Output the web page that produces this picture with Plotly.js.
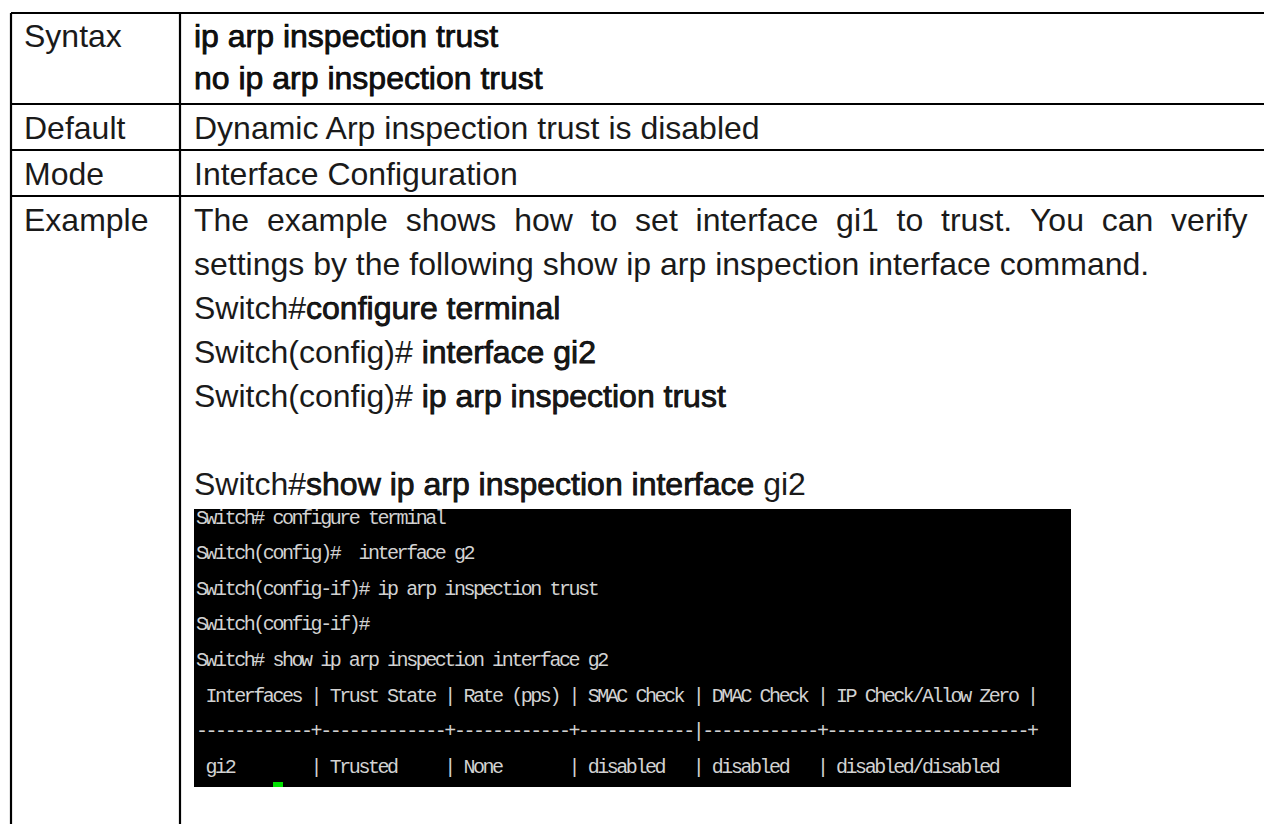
<!DOCTYPE html>
<html>
<head>
<meta charset="utf-8">
<script src="https://cdn.plot.ly/plotly-3.0.1.min.js"></script>
<style>
  html, body { margin: 0; padding: 0; background: #ffffff; }
  #chart { width: 1264px; height: 824px; }
</style>
</head>
<body>
<div id="chart"></div>
<script>
// ---------- content (data) ----------
const rowLabels = ['Syntax', 'Default', 'Mode', 'Example'];
const syntaxLines = [['', 'ip arp inspection trust', ''], ['', 'no ip arp inspection trust', '']];
const defaultLines = ['Dynamic Arp inspection trust is disabled'];
const modeLines = ['Interface Configuration'];
// each example line: [plain prefix, emphasised command, plain suffix]
const exampleLines = [
  ['The\u00a0\u00a0example\u00a0\u00a0shows\u00a0\u00a0how\u00a0\u00a0to\u00a0\u00a0set\u00a0\u00a0interface\u00a0\u00a0gi1\u00a0\u00a0to\u00a0\u00a0trust.\u00a0\u00a0You\u00a0\u00a0can\u00a0\u00a0verify', '', ''],
  ['settings by the following show ip arp inspection interface command.', '', ''],
  ['Switch#', 'configure terminal', ''],
  ['Switch(config)# ', 'interface gi2', ''],
  ['Switch(config)# ', 'ip arp inspection trust', ''],
  ['', '', ''],
  ['Switch#', 'show ip arp inspection interface', ' gi2']
];
const terminalLines = [
  'Switch# configure terminal',
  'Switch(config)#  interface g2',
  'Switch(config-if)# ip arp inspection trust',
  'Switch(config-if)#',
  'Switch# show ip arp inspection interface g2',
  ' Interfaces | Trust State | Rate (pps) | SMAC Check | DMAC Check | IP Check/Allow Zero |',
  '------------+-------------+------------+------------|------------+---------------------+',
  ' gi2        | Trusted     | None       | disabled   | disabled   | disabled/disabled'
];

// ---------- layout geometry (pixels) ----------
const W = 1264, H = 824;
const tableLeft = 11, colDivider = 180, tableTop = 13;
const rowLines = [13, 104, 150, 196];
const labelX = 24, contentX = 194;
const mainFont = 'Liberation Sans, Arial, sans-serif';
const mainSize = 32;
const syntaxBase = [47, 89];
const defaultBase = [139];
const modeBase = [185];
const exampleBase0 = 231, exampleStep = 44;
const term = {x0: 194, x1: 1071, y0: 509, y1: 787, textX: 196, firstLine: 518, step: 35.6};
const termFont = 'Liberation Mono, DejaVu Sans Mono, monospace';
const termSize = 20, termSpacing = -2.45;

const px = v => v / W;
const py = v => 1 - v / H;
const emph = s => s ? '<span style="stroke:#000000;stroke-width:0.75px">' + s + '</span>' : '';
const compose = parts => parts[0] + emph(parts[1]) + parts[2];

const annotations = [];
function addLine(text, x, baseline, size, color, family) {
  if (!text) return;
  annotations.push({
    text: text, xref: 'paper', yref: 'paper',
    x: px(x), y: py(baseline - 0.3465 * size),
    xanchor: 'left', yanchor: 'middle', showarrow: false,
    borderpad: 0, borderwidth: 0, align: 'left',
    font: {family: family, size: size, color: color}
  });
}

const labelBases = [syntaxBase[0], defaultBase[0], modeBase[0], exampleBase0];
rowLabels.forEach((t, i) => addLine(t, labelX, labelBases[i], mainSize, '#1a1a1a', mainFont));
syntaxLines.forEach((p, i) => addLine(compose(p), contentX, syntaxBase[i], mainSize, '#111111', mainFont));
defaultLines.forEach((t, i) => addLine(t, contentX, defaultBase[i], mainSize, '#1a1a1a', mainFont));
modeLines.forEach((t, i) => addLine(t, contentX, modeBase[i], mainSize, '#1a1a1a', mainFont));
exampleLines.forEach((p, i) => addLine(compose(p), contentX, exampleBase0 + i * exampleStep, mainSize, '#1a1a1a', mainFont));

terminalLines.forEach((t, i) => {
  annotations.push({
    text: '<span style="letter-spacing:' + termSpacing + 'px">' + t.replace(/ /g, '\u00a0') + '</span>',
    xref: 'paper', yref: 'paper',
    x: px(term.textX), y: py(term.firstLine + i * term.step),
    xanchor: 'left', yanchor: 'middle', showarrow: false,
    borderpad: 0, borderwidth: 0, align: 'left',
    font: {family: termFont, size: termSize, color: '#d2d2d2'}
  });
});

const shapes = [];
const lineStyle = {color: '#000000', width: 2.2};
rowLines.forEach(y => shapes.push({type: 'line', xref: 'paper', yref: 'paper',
  x0: px(tableLeft), x1: px(W + 5), y0: py(y), y1: py(y), line: lineStyle}));
[tableLeft, colDivider].forEach(x => shapes.push({type: 'line', xref: 'paper', yref: 'paper',
  x0: px(x), x1: px(x), y0: py(tableTop), y1: py(H + 5), line: lineStyle}));
shapes.push({type: 'rect', xref: 'paper', yref: 'paper', layer: 'below',
  x0: px(term.x0), x1: px(term.x1), y0: py(term.y0), y1: py(term.y1),
  fillcolor: '#000000', line: {width: 0}});
shapes.push({type: 'rect', xref: 'paper', yref: 'paper',
  x0: px(273), x1: px(283), y0: py(782), y1: py(787),
  fillcolor: '#00e000', line: {width: 0}});

const layout = {
  width: W, height: H,
  margin: {l: 0, r: 0, t: 0, b: 0, pad: 0},
  paper_bgcolor: '#ffffff', plot_bgcolor: '#ffffff',
  xaxis: {visible: false, range: [0, 1], fixedrange: true},
  yaxis: {visible: false, range: [0, 1], fixedrange: true},
  showlegend: false,
  shapes: shapes,
  annotations: annotations
};

Plotly.newPlot('chart', [], layout, {staticPlot: true, displayModeBar: false});
</script>
</body>
</html>
